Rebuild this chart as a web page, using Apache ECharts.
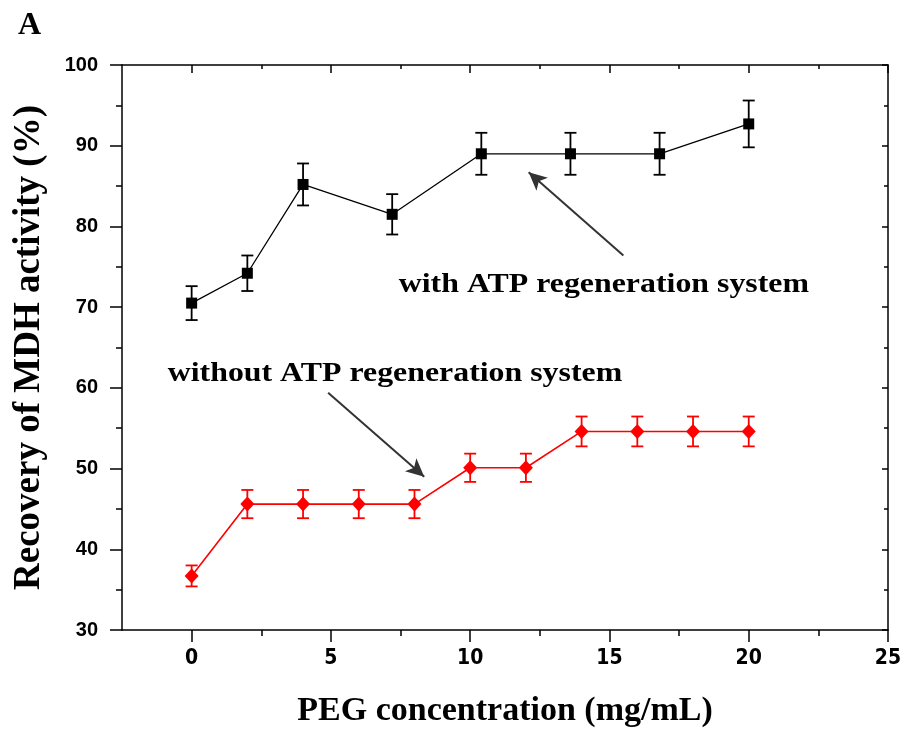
<!DOCTYPE html>
<html>
<head>
<meta charset="utf-8">
<script src="https://cdn.jsdelivr.net/npm/echarts@6/dist/echarts.min.js"></script>
<style>
  html, body { margin: 0; background: #fff; }
  #chart { width: 900px; height: 729px; }
</style>
</head>
<body>
<div id="chart"></div>
<script>
// PEG series
const pegWith = [0, 2, 4, 7.2, 10.4, 13.6, 16.8, 20];
const recoveryWith = [70.5, 74.2, 85.2, 81.5, 89.0, 89.0, 89.0, 92.7];
const errWith = [2.1, 2.2, 2.6, 2.5, 2.6, 2.6, 2.6, 2.9];

const pegWithout = [0, 2, 4, 6, 8, 10, 12, 14, 16, 18, 20];
const recoveryWithout = [36.7, 45.6, 45.6, 45.6, 45.6, 50.1, 50.1, 54.6, 54.6, 54.6, 54.6];
const errWithout = [1.3, 1.75, 1.75, 1.75, 1.75, 1.75, 1.75, 1.85, 1.85, 1.85, 1.85];

const xMajor = [0, 5, 10, 15, 20, 25];
const xMinor = [2.5, 7.5, 12.5, 17.5, 22.5];

const serif = '"Liberation Serif", "Times New Roman", serif';
const sans = '"Liberation Sans", Arial, sans-serif';
const narrow = '"Liberation Sans Narrow", "DejaVu Sans Condensed", "Liberation Sans", sans-serif';

const chart = echarts.init(document.getElementById('chart'));

function pairs(xs, ys) {
  return xs.map((x, i) => [x, ys[i]]);
}
function bars(xs, ys, es) {
  return xs.map((x, i) => [x, ys[i] - es[i], ys[i] + es[i]]);
}

// vertical error bar with caps
function errorBar(color, width) {
  return function (params, api) {
    const x = api.value(0);
    const lo = api.coord([x, api.value(1)]);
    const hi = api.coord([x, api.value(2)]);
    const hw = 6;
    const style = { stroke: color, lineWidth: width };
    return {
      type: 'group',
      children: [
        { type: 'line', shape: { x1: lo[0], y1: lo[1], x2: hi[0], y2: hi[1] }, style },
        { type: 'line', shape: { x1: hi[0] - hw, y1: hi[1], x2: hi[0] + hw, y2: hi[1] }, style },
        { type: 'line', shape: { x1: lo[0] - hw, y1: lo[1], x2: lo[0] + hw, y2: lo[1] }, style },
      ],
    };
  };
}

const axisLine = { show: true, onZero: false, lineStyle: { color: '#000', width: 1.5 } };
const tickStyle = { color: '#000', width: 1.5 };
const xBase = { type: 'value', min: -2.5, max: 25, splitLine: { show: false } };

const option = {
  animation: false,
  backgroundColor: '#fff',
  grid: { left: 122, right: 12, top: 65, bottom: 99, outerBoundsMode: 'none' },
  xAxis: [
    Object.assign({}, xBase, {
      position: 'bottom',
      axisLine,
      axisTick: { customValues: xMajor, length: 12, lineStyle: tickStyle },
      axisLabel: {
        customValues: xMajor, margin: 18,
        fontFamily: narrow, fontWeight: 'bold', fontSize: 21, color: '#000',
      },
      name: 'PEG concentration (mg/mL)',
      nameLocation: 'middle',
      nameGap: 64,
      nameTextStyle: { fontFamily: serif, fontWeight: 'bold', fontSize: 34, color: '#000' },
    }),
    Object.assign({}, xBase, {
      position: 'bottom',
      axisLine: { show: false },
      axisTick: { customValues: xMinor, length: 6, lineStyle: tickStyle },
      axisLabel: { show: false },
    }),
    Object.assign({}, xBase, {
      position: 'top',
      axisLine,
      axisTick: { customValues: xMajor, inside: true, length: 8, lineStyle: tickStyle },
      axisLabel: { show: false },
    }),
    Object.assign({}, xBase, {
      position: 'top',
      axisLine: { show: false },
      axisTick: { customValues: xMinor, inside: true, length: 4, lineStyle: tickStyle },
      axisLabel: { show: false },
    }),
  ],
  yAxis: [
    {
      type: 'value', min: 30, max: 100, interval: 10, position: 'left',
      splitLine: { show: false },
      axisLine,
      axisTick: { length: 12, lineStyle: tickStyle },
      minorTick: { show: true, splitNumber: 2, length: 6, lineStyle: tickStyle },
      axisLabel: { margin: 24, fontFamily: sans, fontWeight: 'bold', fontSize: 20, color: '#000' },
      name: 'Recovery of MDH activity (%)',
      nameLocation: 'middle',
      nameGap: 74,
      nameTextStyle: { fontFamily: serif, fontWeight: 'bold', fontSize: 37, color: '#000' },
    },
    {
      type: 'value', min: 30, max: 100, interval: 10, position: 'right',
      splitLine: { show: false },
      axisLine,
      axisTick: { inside: true, length: 6, lineStyle: tickStyle },
      minorTick: { show: true, splitNumber: 2, length: 4, lineStyle: tickStyle },
      axisLabel: { show: false },
    },
  ],
  series: [
    {
      name: 'with ATP',
      type: 'line',
      data: pairs(pegWith, recoveryWith),
      symbol: 'rect',
      symbolSize: 11,
      itemStyle: { color: '#000' },
      lineStyle: { color: '#000', width: 1.3 },
      z: 3,
      markLine: {
        silent: true,
        symbol: ['none', 'arrow'],
        symbolSize: [13, 18],
        label: { show: false },
        lineStyle: { color: '#333', width: 2, type: 'solid' },
        itemStyle: { color: '#333' },
        data: [
          [{ coord: [15.5, 76.4] }, { coord: [12.1, 86.7] }],
          [{ coord: [4.9, 59.4] }, { coord: [8.35, 49.0] }],
        ],
      },
    },
    {
      name: 'with ATP error',
      type: 'custom',
      data: bars(pegWith, recoveryWith, errWith),
      renderItem: errorBar('#000', 1.8),
      z: 2,
    },
    {
      name: 'without ATP',
      type: 'line',
      data: pairs(pegWithout, recoveryWithout),
      symbol: 'diamond',
      symbolSize: [14, 15],
      itemStyle: { color: '#ff0000' },
      lineStyle: { color: '#ff0000', width: 1.6 },
      z: 3,
    },
    {
      name: 'without ATP error',
      type: 'custom',
      data: bars(pegWithout, recoveryWithout, errWithout),
      renderItem: errorBar('#ff0000', 1.8),
      z: 2,
    },
  ],
};

chart.setOption(option);

// annotation texts placed at data positions
const notes = [
  { text: 'with ATP regeneration system', at: [14.8, 72.8] },
  { text: 'without ATP regeneration system', at: [7.3, 61.7] },
];
const graphic = notes.map(n => {
  const p = chart.convertToPixel({ xAxisIndex: 0, yAxisIndex: 0 }, n.at);
  return {
    type: 'text', x: p[0], y: p[1], scaleX: 1.18,
    style: {
      text: n.text, align: 'center', verticalAlign: 'middle',
      font: 'bold 27px ' + serif, fill: '#000',
    },
  };
});
graphic.push({
  type: 'text', left: 18, top: 10,
  style: { text: 'A', font: 'bold 32px ' + serif, fill: '#000' },
});
chart.setOption({ graphic });
</script>
</body>
</html>
